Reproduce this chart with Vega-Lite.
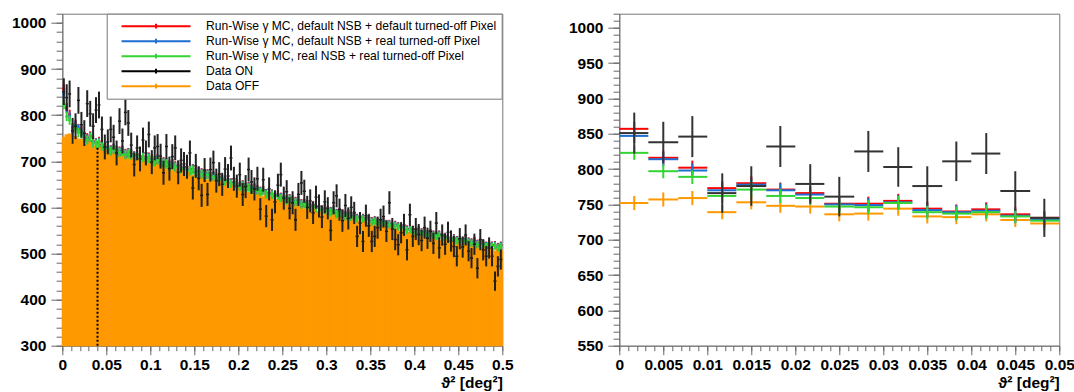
{
"$schema": "https://vega.github.io/schema/vega-lite/v6.json",
"padding": {"left": 10.3, "top": 12.7, "right": 0, "bottom": 0},
"background": "white",
"config": {
 "font": "Liberation Sans",
 "view": {"stroke": "#777", "strokeWidth": 1},
 "axis": {"grid": false, "domainColor": "#777", "domainWidth": 1, "tickColor": "#666", "tickWidth": 1, "labelFont": "Liberation Sans", "labelFontWeight": "bold", "labelFontSize": 15.5, "labelColor": "#000", "titleFont": "Liberation Sans", "titleFontWeight": "bold", "titleFontSize": 15.5, "titleColor": "#000", "labelFlush": false, "labelOverlap": false}
},
"resolve": {"scale": {"stroke": "independent"}, "legend": {"stroke": "independent"}},
"spacing": 53,
"datasets": {"h": [
{"lo":0,"c":0.0017,"hi":0.0033,"off":752,"r":857,"b":847,"g":823,"on":851,"ne":29,"e":10},
{"lo":0.0033,"c":0.005,"hi":0.0067,"off":757,"r":816,"b":814,"g":797,"on":838,"ne":29,"e":10},
{"lo":0.0067,"c":0.0083,"hi":0.01,"off":759,"r":802,"b":798,"g":789,"on":846,"ne":29,"e":10},
{"lo":0.01,"c":0.0117,"hi":0.0133,"off":739,"r":773,"b":770,"g":762,"on":766,"ne":28,"e":10},
{"lo":0.0133,"c":0.015,"hi":0.0167,"off":753,"r":780,"b":778,"g":771,"on":776,"ne":28,"e":10},
{"lo":0.0167,"c":0.0183,"hi":0.02,"off":748,"r":771,"b":770,"g":762,"on":832,"ne":29,"e":10},
{"lo":0.02,"c":0.0217,"hi":0.0233,"off":747,"r":766,"b":764,"g":759,"on":779,"ne":28,"e":10},
{"lo":0.0233,"c":0.025,"hi":0.0267,"off":736,"r":751,"b":750,"g":747,"on":761,"ne":28,"e":10},
{"lo":0.0267,"c":0.0283,"hi":0.03,"off":737,"r":751,"b":749,"g":746,"on":825,"ne":29,"e":10},
{"lo":0.03,"c":0.0317,"hi":0.0333,"off":744,"r":755,"b":753,"g":752,"on":803,"ne":28,"e":10},
{"lo":0.0333,"c":0.035,"hi":0.0367,"off":733,"r":744,"b":742,"g":739,"on":776,"ne":28,"e":10},
{"lo":0.0367,"c":0.0383,"hi":0.04,"off":732,"r":740,"b":739,"g":737,"on":811,"ne":28,"e":10},
{"lo":0.04,"c":0.0417,"hi":0.0433,"off":736,"r":743,"b":741,"g":739,"on":822,"ne":29,"e":10},
{"lo":0.0433,"c":0.045,"hi":0.0467,"off":728,"r":736,"b":734,"g":733,"on":769,"ne":28,"e":10},
{"lo":0.0467,"c":0.0483,"hi":0.05,"off":723,"r":731,"b":729,"g":727,"on":731,"ne":27,"e":10},
{"lo":0.05,"c":0.0517,"hi":0.0533,"off":722,"r":730,"b":729,"g":727,"on":742,"ne":27,"e":10},
{"lo":0.0533,"c":0.055,"hi":0.0567,"off":715,"r":725,"b":724,"g":722,"on":769,"ne":28,"e":10},
{"lo":0.0567,"c":0.0583,"hi":0.06,"off":717,"r":728,"b":727,"g":725,"on":752,"ne":27,"e":10},
{"lo":0.06,"c":0.0617,"hi":0.0633,"off":719,"r":724,"b":723,"g":721,"on":718,"ne":27,"e":10},
{"lo":0.0633,"c":0.065,"hi":0.0667,"off":712,"r":722,"b":721,"g":719,"on":787,"ne":28,"e":10},
{"lo":0.0667,"c":0.0683,"hi":0.07,"off":713,"r":724,"b":723,"g":721,"on":744,"ne":27,"e":10},
{"lo":0.07,"c":0.0717,"hi":0.0733,"off":706,"r":717,"b":716,"g":714,"on":806,"ne":28,"e":10},
{"lo":0.0733,"c":0.075,"hi":0.0767,"off":712,"r":719,"b":718,"g":716,"on":783,"ne":28,"e":10},
{"lo":0.0767,"c":0.0783,"hi":0.08,"off":706,"r":716,"b":715,"g":713,"on":735,"ne":27,"e":10},
{"lo":0.08,"c":0.0817,"hi":0.0833,"off":706,"r":712,"b":711,"g":709,"on":693,"ne":26,"e":10},
{"lo":0.0833,"c":0.085,"hi":0.0867,"off":706,"r":715,"b":714,"g":712,"on":729,"ne":27,"e":10},
{"lo":0.0867,"c":0.0883,"hi":0.09,"off":699,"r":710,"b":709,"g":707,"on":705,"ne":27,"e":10},
{"lo":0.09,"c":0.0917,"hi":0.0933,"off":706,"r":711,"b":710,"g":708,"on":746,"ne":27,"e":10},
{"lo":0.0933,"c":0.095,"hi":0.0967,"off":698,"r":706,"b":705,"g":703,"on":718,"ne":27,"e":10},
{"lo":0.0967,"c":0.0983,"hi":0.1,"off":700,"r":709,"b":708,"g":706,"on":758,"ne":28,"e":10},
{"lo":0.1,"c":0.1017,"hi":0.1033,"off":693,"r":705,"b":704,"g":702,"on":698,"ne":26,"e":10},
{"lo":0.1033,"c":0.105,"hi":0.1067,"off":694,"r":702,"b":701,"g":699,"on":729,"ne":27,"e":10},
{"lo":0.1067,"c":0.1083,"hi":0.11,"off":697,"r":705,"b":704,"g":702,"on":732,"ne":27,"e":10},
{"lo":0.11,"c":0.1117,"hi":0.1133,"off":689,"r":698,"b":697,"g":695,"on":711,"ne":27,"e":10},
{"lo":0.1133,"c":0.115,"hi":0.1167,"off":690,"r":699,"b":698,"g":696,"on":675,"ne":26,"e":10},
{"lo":0.1167,"c":0.1183,"hi":0.12,"off":684,"r":697,"b":696,"g":694,"on":732,"ne":27,"e":10},
{"lo":0.12,"c":0.1217,"hi":0.1233,"off":689,"r":692,"b":691,"g":689,"on":684,"ne":26,"e":10},
{"lo":0.1233,"c":0.125,"hi":0.1267,"off":683,"r":695,"b":694,"g":692,"on":710,"ne":27,"e":10},
{"lo":0.1267,"c":0.1283,"hi":0.13,"off":682,"r":690,"b":689,"g":687,"on":729,"ne":27,"e":10},
{"lo":0.13,"c":0.1317,"hi":0.1333,"off":683,"r":691,"b":690,"g":688,"on":676,"ne":26,"e":10},
{"lo":0.1333,"c":0.135,"hi":0.1367,"off":676,"r":686,"b":685,"g":683,"on":702,"ne":26,"e":10},
{"lo":0.1367,"c":0.1383,"hi":0.14,"off":682,"r":688,"b":687,"g":685,"on":694,"ne":26,"e":10},
{"lo":0.14,"c":0.1417,"hi":0.1433,"off":674,"r":684,"b":683,"g":681,"on":688,"ne":26,"e":10},
{"lo":0.1433,"c":0.145,"hi":0.1467,"off":676,"r":682,"b":681,"g":679,"on":718,"ne":27,"e":10},
{"lo":0.1467,"c":0.1483,"hi":0.15,"off":669,"r":684,"b":683,"g":681,"on":642,"ne":25,"e":10},
{"lo":0.15,"c":0.1517,"hi":0.1533,"off":670,"r":677,"b":676,"g":674,"on":690,"ne":26,"e":10},
{"lo":0.1533,"c":0.155,"hi":0.1567,"off":672,"r":678,"b":677,"g":675,"on":663,"ne":26,"e":10},
{"lo":0.1567,"c":0.1583,"hi":0.16,"off":664,"r":675,"b":674,"g":672,"on":626,"ne":25,"e":10},
{"lo":0.16,"c":0.1617,"hi":0.1633,"off":665,"r":670,"b":669,"g":667,"on":681,"ne":26,"e":10},
{"lo":0.1633,"c":0.165,"hi":0.1667,"off":658,"r":673,"b":672,"g":670,"on":628,"ne":25,"e":10},
{"lo":0.1667,"c":0.1683,"hi":0.17,"off":663,"r":668,"b":667,"g":665,"on":682,"ne":26,"e":9},
{"lo":0.17,"c":0.1717,"hi":0.1733,"off":658,"r":669,"b":668,"g":666,"on":697,"ne":26,"e":9},
{"lo":0.1733,"c":0.175,"hi":0.1767,"off":657,"r":664,"b":663,"g":661,"on":658,"ne":26,"e":9},
{"lo":0.1767,"c":0.1783,"hi":0.18,"off":657,"r":666,"b":665,"g":663,"on":672,"ne":26,"e":9},
{"lo":0.18,"c":0.1817,"hi":0.1833,"off":650,"r":662,"b":661,"g":659,"on":650,"ne":25,"e":9},
{"lo":0.1833,"c":0.185,"hi":0.1867,"off":656,"r":659,"b":658,"g":656,"on":683,"ne":26,"e":9},
{"lo":0.1867,"c":0.1883,"hi":0.19,"off":648,"r":661,"b":660,"g":658,"on":668,"ne":26,"e":9},
{"lo":0.19,"c":0.1917,"hi":0.1933,"off":649,"r":654,"b":653,"g":651,"on":707,"ne":27,"e":9},
{"lo":0.1933,"c":0.195,"hi":0.1967,"off":642,"r":655,"b":654,"g":652,"on":662,"ne":26,"e":9},
{"lo":0.1967,"c":0.1983,"hi":0.2,"off":643,"r":652,"b":651,"g":649,"on":646,"ne":25,"e":9},
{"lo":0.2,"c":0.2017,"hi":0.2033,"off":645,"r":647,"b":646,"g":644,"on":671,"ne":26,"e":9},
{"lo":0.2033,"c":0.205,"hi":0.2067,"off":637,"r":650,"b":649,"g":647,"on":628,"ne":25,"e":9},
{"lo":0.2067,"c":0.2083,"hi":0.21,"off":638,"r":645,"b":644,"g":642,"on":645,"ne":25,"e":9},
{"lo":0.21,"c":0.2117,"hi":0.2133,"off":632,"r":646,"b":645,"g":643,"on":682,"ne":26,"e":9},
{"lo":0.2133,"c":0.215,"hi":0.2167,"off":637,"r":641,"b":640,"g":638,"on":655,"ne":26,"e":9},
{"lo":0.2167,"c":0.2183,"hi":0.22,"off":631,"r":643,"b":642,"g":640,"on":640,"ne":25,"e":9},
{"lo":0.22,"c":0.2217,"hi":0.2233,"off":630,"r":639,"b":638,"g":636,"on":662,"ne":26,"e":9},
{"lo":0.2233,"c":0.225,"hi":0.2267,"off":630,"r":636,"b":635,"g":633,"on":596,"ne":24,"e":9},
{"lo":0.2267,"c":0.2283,"hi":0.23,"off":623,"r":638,"b":637,"g":635,"on":660,"ne":26,"e":9},
{"lo":0.23,"c":0.2317,"hi":0.2333,"off":629,"r":631,"b":630,"g":628,"on":581,"ne":24,"e":9},
{"lo":0.2333,"c":0.235,"hi":0.2367,"off":621,"r":632,"b":631,"g":629,"on":640,"ne":25,"e":9},
{"lo":0.2367,"c":0.2383,"hi":0.24,"off":623,"r":630,"b":629,"g":627,"on":573,"ne":24,"e":9},
{"lo":0.24,"c":0.2417,"hi":0.2433,"off":616,"r":625,"b":624,"g":622,"on":612,"ne":25,"e":9},
{"lo":0.2433,"c":0.245,"hi":0.2467,"off":617,"r":628,"b":627,"g":625,"on":648,"ne":25,"e":9},
{"lo":0.2467,"c":0.2483,"hi":0.25,"off":619,"r":623,"b":622,"g":620,"on":671,"ne":26,"e":9},
{"lo":0.25,"c":0.2517,"hi":0.2533,"off":611,"r":623,"b":622,"g":620,"on":620,"ne":25,"e":9},
{"lo":0.2533,"c":0.255,"hi":0.2567,"off":612,"r":618,"b":617,"g":615,"on":634,"ne":25,"e":9},
{"lo":0.2567,"c":0.2583,"hi":0.26,"off":605,"r":620,"b":619,"g":617,"on":598,"ne":24,"e":9},
{"lo":0.26,"c":0.2617,"hi":0.2633,"off":611,"r":617,"b":616,"g":614,"on":610,"ne":25,"e":9},
{"lo":0.2633,"c":0.265,"hi":0.2667,"off":605,"r":614,"b":613,"g":611,"on":573,"ne":24,"e":9},
{"lo":0.2667,"c":0.2683,"hi":0.27,"off":604,"r":616,"b":615,"g":613,"on":628,"ne":25,"e":9},
{"lo":0.27,"c":0.2717,"hi":0.2733,"off":604,"r":609,"b":608,"g":606,"on":653,"ne":26,"e":9},
{"lo":0.2733,"c":0.275,"hi":0.2767,"off":597,"r":610,"b":609,"g":607,"on":635,"ne":25,"e":9},
{"lo":0.2767,"c":0.2783,"hi":0.28,"off":603,"r":607,"b":606,"g":604,"on":600,"ne":25,"e":9},
{"lo":0.28,"c":0.2817,"hi":0.2833,"off":595,"r":602,"b":601,"g":599,"on":614,"ne":25,"e":9},
{"lo":0.2833,"c":0.285,"hi":0.2867,"off":596,"r":605,"b":604,"g":602,"on":588,"ne":24,"e":9},
{"lo":0.2867,"c":0.2883,"hi":0.29,"off":590,"r":601,"b":600,"g":598,"on":622,"ne":25,"e":9},
{"lo":0.29,"c":0.2917,"hi":0.2933,"off":591,"r":601,"b":600,"g":598,"on":603,"ne":25,"e":9},
{"lo":0.2933,"c":0.295,"hi":0.2967,"off":593,"r":596,"b":595,"g":593,"on":579,"ne":24,"e":9},
{"lo":0.2967,"c":0.2983,"hi":0.3,"off":585,"r":598,"b":597,"g":595,"on":612,"ne":25,"e":9},
{"lo":0.3,"c":0.3017,"hi":0.3033,"off":586,"r":594,"b":593,"g":591,"on":598,"ne":24,"e":9},
{"lo":0.3033,"c":0.305,"hi":0.3067,"off":580,"r":592,"b":591,"g":589,"on":550,"ne":23,"e":9},
{"lo":0.3067,"c":0.3083,"hi":0.31,"off":586,"r":595,"b":594,"g":592,"on":610,"ne":25,"e":9},
{"lo":0.31,"c":0.3117,"hi":0.3133,"off":580,"r":588,"b":587,"g":585,"on":625,"ne":25,"e":9},
{"lo":0.3133,"c":0.315,"hi":0.3167,"off":580,"r":590,"b":589,"g":587,"on":595,"ne":24,"e":9},
{"lo":0.3167,"c":0.3183,"hi":0.32,"off":580,"r":587,"b":586,"g":584,"on":571,"ne":24,"e":9},
{"lo":0.32,"c":0.3217,"hi":0.3233,"off":574,"r":583,"b":582,"g":580,"on":604,"ne":25,"e":9},
{"lo":0.3233,"c":0.325,"hi":0.3267,"off":581,"r":587,"b":586,"g":584,"on":576,"ne":24,"e":9},
{"lo":0.3267,"c":0.3283,"hi":0.33,"off":573,"r":582,"b":581,"g":579,"on":600,"ne":24,"e":9},
{"lo":0.33,"c":0.3317,"hi":0.3333,"off":575,"r":583,"b":582,"g":580,"on":588,"ne":24,"e":9},
{"lo":0.3333,"c":0.335,"hi":0.3367,"off":568,"r":578,"b":577,"g":575,"on":537,"ne":23,"e":8},
{"lo":0.3367,"c":0.3383,"hi":0.34,"off":570,"r":581,"b":580,"g":578,"on":566,"ne":24,"e":8},
{"lo":0.34,"c":0.3417,"hi":0.3433,"off":573,"r":578,"b":577,"g":575,"on":526,"ne":23,"e":8},
{"lo":0.3433,"c":0.345,"hi":0.3467,"off":565,"r":575,"b":574,"g":572,"on":582,"ne":24,"e":8},
{"lo":0.3467,"c":0.3483,"hi":0.35,"off":567,"r":578,"b":577,"g":575,"on":560,"ne":24,"e":8},
{"lo":0.35,"c":0.3517,"hi":0.3533,"off":560,"r":571,"b":570,"g":568,"on":526,"ne":23,"e":8},
{"lo":0.3533,"c":0.355,"hi":0.3567,"off":566,"r":573,"b":572,"g":570,"on":537,"ne":23,"e":8},
{"lo":0.3567,"c":0.3583,"hi":0.36,"off":560,"r":570,"b":569,"g":567,"on":556,"ne":24,"e":8},
{"lo":0.36,"c":0.3617,"hi":0.3633,"off":560,"r":566,"b":565,"g":563,"on":573,"ne":24,"e":8},
{"lo":0.3633,"c":0.365,"hi":0.3667,"off":560,"r":569,"b":568,"g":566,"on":580,"ne":24,"e":8},
{"lo":0.3667,"c":0.3683,"hi":0.37,"off":554,"r":565,"b":564,"g":562,"on":548,"ne":23,"e":8},
{"lo":0.37,"c":0.3717,"hi":0.3733,"off":560,"r":565,"b":564,"g":562,"on":610,"ne":25,"e":8},
{"lo":0.3733,"c":0.375,"hi":0.3767,"off":553,"r":561,"b":560,"g":558,"on":553,"ne":24,"e":8},
{"lo":0.3767,"c":0.3783,"hi":0.38,"off":554,"r":563,"b":562,"g":560,"on":530,"ne":23,"e":8},
{"lo":0.38,"c":0.3817,"hi":0.3833,"off":548,"r":560,"b":559,"g":557,"on":519,"ne":23,"e":8},
{"lo":0.3833,"c":0.385,"hi":0.3867,"off":549,"r":557,"b":556,"g":554,"on":545,"ne":23,"e":8},
{"lo":0.3867,"c":0.3883,"hi":0.39,"off":551,"r":559,"b":558,"g":556,"on":562,"ne":24,"e":8},
{"lo":0.39,"c":0.3917,"hi":0.3933,"off":544,"r":553,"b":552,"g":550,"on":508,"ne":23,"e":8},
{"lo":0.3933,"c":0.395,"hi":0.3967,"off":545,"r":554,"b":553,"g":551,"on":584,"ne":24,"e":8},
{"lo":0.3967,"c":0.3983,"hi":0.4,"off":539,"r":552,"b":551,"g":549,"on":537,"ne":23,"e":8},
{"lo":0.4,"c":0.4017,"hi":0.4033,"off":544,"r":547,"b":546,"g":544,"on":553,"ne":24,"e":8},
{"lo":0.4033,"c":0.405,"hi":0.4067,"off":539,"r":551,"b":550,"g":548,"on":541,"ne":23,"e":8},
{"lo":0.4067,"c":0.4083,"hi":0.41,"off":539,"r":547,"b":546,"g":544,"on":528,"ne":23,"e":8},
{"lo":0.41,"c":0.4117,"hi":0.4133,"off":539,"r":547,"b":546,"g":544,"on":556,"ne":24,"e":8},
{"lo":0.4133,"c":0.415,"hi":0.4167,"off":533,"r":543,"b":542,"g":540,"on":533,"ne":23,"e":8},
{"lo":0.4167,"c":0.4183,"hi":0.42,"off":539,"r":545,"b":544,"g":542,"on":548,"ne":23,"e":8},
{"lo":0.42,"c":0.4217,"hi":0.4233,"off":532,"r":542,"b":541,"g":539,"on":522,"ne":23,"e":8},
{"lo":0.4233,"c":0.425,"hi":0.4267,"off":534,"r":540,"b":539,"g":537,"on":566,"ne":24,"e":8},
{"lo":0.4267,"c":0.4283,"hi":0.43,"off":527,"r":542,"b":541,"g":539,"on":512,"ne":23,"e":8},
{"lo":0.43,"c":0.4317,"hi":0.4333,"off":529,"r":536,"b":535,"g":533,"on":540,"ne":23,"e":8},
{"lo":0.4333,"c":0.435,"hi":0.4367,"off":531,"r":537,"b":536,"g":534,"on":520,"ne":23,"e":8},
{"lo":0.4367,"c":0.4383,"hi":0.44,"off":524,"r":535,"b":534,"g":532,"on":546,"ne":23,"e":8},
{"lo":0.44,"c":0.4417,"hi":0.4433,"off":526,"r":531,"b":530,"g":528,"on":527,"ne":23,"e":8},
{"lo":0.4433,"c":0.445,"hi":0.4467,"off":519,"r":534,"b":533,"g":531,"on":515,"ne":23,"e":8},
{"lo":0.4467,"c":0.4483,"hi":0.45,"off":525,"r":530,"b":529,"g":527,"on":494,"ne":22,"e":8},
{"lo":0.45,"c":0.4517,"hi":0.4533,"off":520,"r":531,"b":530,"g":528,"on":532,"ne":23,"e":8},
{"lo":0.4533,"c":0.455,"hi":0.4567,"off":520,"r":527,"b":526,"g":524,"on":514,"ne":23,"e":8},
{"lo":0.4567,"c":0.4583,"hi":0.46,"off":521,"r":530,"b":529,"g":527,"on":540,"ne":23,"e":8},
{"lo":0.46,"c":0.4617,"hi":0.4633,"off":515,"r":527,"b":526,"g":524,"on":505,"ne":22,"e":8},
{"lo":0.4633,"c":0.465,"hi":0.4667,"off":522,"r":525,"b":524,"g":522,"on":490,"ne":22,"e":8},
{"lo":0.4667,"c":0.4683,"hi":0.47,"off":515,"r":528,"b":527,"g":525,"on":520,"ne":23,"e":8},
{"lo":0.47,"c":0.4717,"hi":0.4733,"off":517,"r":522,"b":521,"g":519,"on":468,"ne":22,"e":8},
{"lo":0.4733,"c":0.475,"hi":0.4767,"off":511,"r":524,"b":523,"g":521,"on":530,"ne":23,"e":8},
{"lo":0.4767,"c":0.4783,"hi":0.48,"off":513,"r":522,"b":521,"g":519,"on":508,"ne":23,"e":8},
{"lo":0.48,"c":0.4817,"hi":0.4833,"off":516,"r":518,"b":517,"g":515,"on":494,"ne":22,"e":8},
{"lo":0.4833,"c":0.485,"hi":0.4867,"off":509,"r":522,"b":521,"g":519,"on":512,"ne":23,"e":8},
{"lo":0.4867,"c":0.4883,"hi":0.49,"off":511,"r":518,"b":517,"g":515,"on":494,"ne":22,"e":8},
{"lo":0.49,"c":0.4917,"hi":0.4933,"off":505,"r":519,"b":518,"g":516,"on":440,"ne":21,"e":8},
{"lo":0.4933,"c":0.495,"hi":0.4967,"off":511,"r":515,"b":514,"g":512,"on":472,"ne":22,"e":8},
{"lo":0.4967,"c":0.4983,"hi":0.5,"off":506,"r":518,"b":517,"g":515,"on":487,"ne":22,"e":8}
]},
"hconcat": [
{
 "width": 440, "height": 332,
 "data": {"name": "h"},
 "resolve": {"axis": {"x": "independent", "y": "independent"}},
 "layer": [
  {"mark": {"type": "bar", "fill": "#ff9900", "strokeWidth": 1.2},
   "encoding": {
    "x": {"field": "lo", "type": "quantitative", "scale": {"domain": [0, 0.5], "nice": false, "zero": false},
      "axis": {"orient": "bottom", "values": [0,0.05,0.1,0.15,0.2,0.25,0.3,0.35,0.4,0.45,0.5], "format": ".2~f", "tickSize": 9, "labelPadding": 3, "title": "ϑ² [deg²]", "titleAnchor": "end", "titleAlign": "right", "titlePadding": 2}},
    "x2": {"field": "hi"},
    "y": {"field": "off", "type": "quantitative", "scale": {"domain": [300, 1020], "nice": false, "zero": false},
      "axis": {"orient": "left", "values": [300,400,500,600,700,800,900,1000], "format": "d", "tickSize": 11.4, "labelPadding": 5, "title": null}},
    "y2": {"datum": 300},
    "stroke": {"datum": "Data OFF", "type": "nominal",
      "scale": {"domain": ["Run-Wise γ MC, default NSB + default turned-off Pixel", "Run-Wise γ MC, default NSB + real turned-off Pixel", "Run-Wise γ MC, real NSB + real turned-off Pixel", "Data ON", "Data OFF"], "range": ["#ff0000", "#1e6fd0", "#33d433", "#000000", "#ff9900"]},
      "legend": {"orient": "none", "legendX": 44.4, "legendY": 0, "title": null, "symbolType": "M-1,0H1M0,-0.07V0.07", "symbolSize": 4761, "symbolStrokeWidth": 2, "clipHeight": 15, "rowPadding": 0, "labelFont": "Liberation Sans", "labelFontSize": 12.1, "labelFontWeight": "normal", "labelColor": "#000", "labelOffset": 14.5, "symbolOffset": 8.8, "padding": 5, "fillColor": "#ffffff", "strokeColor": "#777", "labelLimit": 400}}
   }},
  {"mark": {"type": "rule", "strokeWidth": 2},
   "encoding": {
    "x": {"field": "lo", "type": "quantitative", "axis": {"orient": "bottom", "values": [0,0.01,0.02,0.03,0.04,0.05,0.06,0.07,0.08,0.09,0.1,0.11,0.12,0.13,0.14,0.15,0.16,0.17,0.18,0.19,0.2,0.21,0.22,0.23,0.24,0.25,0.26,0.27,0.28,0.29,0.3,0.31,0.32,0.33,0.34,0.35,0.36,0.37,0.38,0.39,0.4,0.41,0.42,0.43,0.44,0.45,0.46,0.47,0.48,0.49,0.5], "labels": false, "tickSize": 5, "domain": false, "title": null}},
    "x2": {"field": "hi"},
    "y": {"field": "r", "type": "quantitative", "axis": {"orient": "left", "values": [300,320,340,360,380,400,420,440,460,480,500,520,540,560,580,600,620,640,660,680,700,720,740,760,780,800,820,840,860,880,900,920,940,960,980,1000,1020], "labels": false, "tickSize": 6.2, "domain": false, "title": null}},
    "stroke": {"datum": "Run-Wise γ MC, default NSB + default turned-off Pixel", "type": "nominal"}
   }},
  {"mark": {"type": "errorbar", "color": "#ff0000", "thickness": 2},
   "encoding": {"x": {"field": "c", "type": "quantitative", "axis": null}, "y": {"field": "r", "type": "quantitative", "axis": null}, "yError": {"field": "e"}}},
  {"mark": {"type": "rule", "strokeWidth": 2},
   "encoding": {"x": {"field": "lo", "type": "quantitative", "axis": null}, "x2": {"field": "hi"}, "y": {"field": "b", "type": "quantitative", "axis": null},
    "stroke": {"datum": "Run-Wise γ MC, default NSB + real turned-off Pixel", "type": "nominal"}}},
  {"mark": {"type": "errorbar", "color": "#1e6fd0", "thickness": 2},
   "encoding": {"x": {"field": "c", "type": "quantitative", "axis": null}, "y": {"field": "b", "type": "quantitative", "axis": null}, "yError": {"field": "e"}}},
  {"mark": {"type": "rule", "strokeWidth": 2},
   "encoding": {"x": {"field": "lo", "type": "quantitative", "axis": null}, "x2": {"field": "hi"}, "y": {"field": "g", "type": "quantitative", "axis": null},
    "stroke": {"datum": "Run-Wise γ MC, real NSB + real turned-off Pixel", "type": "nominal"}}},
  {"mark": {"type": "errorbar", "color": "#33d433", "thickness": 2},
   "encoding": {"x": {"field": "c", "type": "quantitative", "axis": null}, "y": {"field": "g", "type": "quantitative", "axis": null}, "yError": {"field": "e"}}},
  {"mark": {"type": "rule", "strokeWidth": 1.5},
   "encoding": {"x": {"field": "lo", "type": "quantitative", "axis": null}, "x2": {"field": "hi"}, "y": {"field": "on", "type": "quantitative", "axis": null},
    "stroke": {"datum": "Data ON", "type": "nominal"}}},
  {"mark": {"type": "errorbar", "color": "#222222", "thickness": 2},
   "encoding": {"x": {"field": "c", "type": "quantitative", "axis": null}, "y": {"field": "on", "type": "quantitative", "axis": null}, "yError": {"field": "ne"}}},
  {"data": {"values": [{"cut": 0.04}]},
   "mark": {"type": "rule", "color": "#000000", "strokeWidth": 2, "strokeDash": [2, 2]},
   "encoding": {"x": {"field": "cut", "type": "quantitative", "axis": null}, "y": {"datum": 300, "type": "quantitative", "axis": null}, "y2": {"datum": 732}}}
 ]
},
{
 "width": 440, "height": 332,
 "data": {"name": "h"},
 "transform": [{"filter": "datum.c < 0.05"}],
 "resolve": {"axis": {"x": "independent", "y": "independent"}},
 "layer": [
  {"mark": {"type": "rule", "strokeWidth": 2, "color": "#ff9900"},
   "encoding": {
    "x": {"field": "lo", "type": "quantitative", "scale": {"domain": [0, 0.05], "nice": false, "zero": false},
      "axis": {"orient": "bottom", "values": [0,0.005,0.01,0.015,0.02,0.025,0.03,0.035,0.04,0.045,0.05], "format": ".3~f", "tickSize": 9, "labelPadding": 3, "title": "ϑ² [deg²]", "titleAnchor": "end", "titleAlign": "right", "titlePadding": 2}},
    "x2": {"field": "hi"},
    "y": {"field": "off", "type": "quantitative", "scale": {"domain": [550, 1020], "nice": false, "zero": false},
      "axis": {"orient": "left", "values": [550,600,650,700,750,800,850,900,950,1000], "format": "d", "tickSize": 11.4, "labelPadding": 5, "title": null}}
   }},
  {"mark": {"type": "errorbar", "color": "#ff9900", "thickness": 2},
   "encoding": {"x": {"field": "c", "type": "quantitative", "axis": null}, "y": {"field": "off", "type": "quantitative", "axis": null}, "yError": {"field": "e"}}},
  {"mark": {"type": "rule", "strokeWidth": 2, "color": "#ff0000"},
   "encoding": {
    "x": {"field": "lo", "type": "quantitative", "axis": {"orient": "bottom", "values": [0,0.001,0.002,0.003,0.004,0.005,0.006,0.007,0.008,0.009,0.01,0.011,0.012,0.013,0.014,0.015,0.016,0.017,0.018,0.019,0.02,0.021,0.022,0.023,0.024,0.025,0.026,0.027,0.028,0.029,0.03,0.031,0.032,0.033,0.034,0.035,0.036,0.037,0.038,0.039,0.04,0.041,0.042,0.043,0.044,0.045,0.046,0.047,0.048,0.049,0.05], "labels": false, "tickSize": 5, "domain": false, "title": null}},
    "x2": {"field": "hi"},
    "y": {"field": "r", "type": "quantitative", "axis": {"orient": "left", "values": [550,560,570,580,590,600,610,620,630,640,650,660,670,680,690,700,710,720,730,740,750,760,770,780,790,800,810,820,830,840,850,860,870,880,890,900,910,920,930,940,950,960,970,980,990,1000,1010,1020], "labels": false, "tickSize": 6.2, "domain": false, "title": null}}
   }},
  {"mark": {"type": "errorbar", "color": "#ff0000", "thickness": 2},
   "encoding": {"x": {"field": "c", "type": "quantitative", "axis": null}, "y": {"field": "r", "type": "quantitative", "axis": null}, "yError": {"field": "e"}}},
  {"mark": {"type": "rule", "strokeWidth": 2, "color": "#1e6fd0"},
   "encoding": {"x": {"field": "lo", "type": "quantitative", "axis": null}, "x2": {"field": "hi"}, "y": {"field": "b", "type": "quantitative", "axis": null}}},
  {"mark": {"type": "errorbar", "color": "#1e6fd0", "thickness": 2},
   "encoding": {"x": {"field": "c", "type": "quantitative", "axis": null}, "y": {"field": "b", "type": "quantitative", "axis": null}, "yError": {"field": "e"}}},
  {"mark": {"type": "rule", "strokeWidth": 2, "color": "#33d433"},
   "encoding": {"x": {"field": "lo", "type": "quantitative", "axis": null}, "x2": {"field": "hi"}, "y": {"field": "g", "type": "quantitative", "axis": null}}},
  {"mark": {"type": "errorbar", "color": "#33d433", "thickness": 2},
   "encoding": {"x": {"field": "c", "type": "quantitative", "axis": null}, "y": {"field": "g", "type": "quantitative", "axis": null}, "yError": {"field": "e"}}},
  {"mark": {"type": "rule", "strokeWidth": 2, "color": "#333333"},
   "encoding": {"x": {"field": "lo", "type": "quantitative", "axis": null}, "x2": {"field": "hi"}, "y": {"field": "on", "type": "quantitative", "axis": null}}},
  {"mark": {"type": "errorbar", "color": "#333333", "thickness": 2},
   "encoding": {"x": {"field": "c", "type": "quantitative", "axis": null}, "y": {"field": "on", "type": "quantitative", "axis": null}, "yError": {"field": "ne"}}}
 ]
}
]
}
